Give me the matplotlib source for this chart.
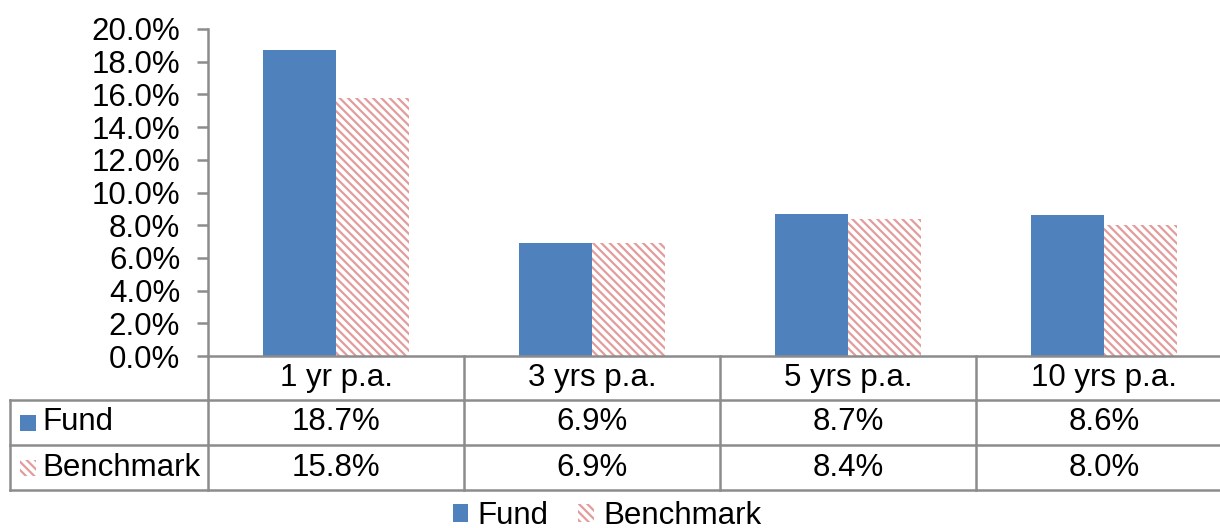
import matplotlib
matplotlib.use("Agg")
import matplotlib.pyplot as plt
from matplotlib.patches import Rectangle, Patch
from matplotlib.transforms import blended_transform_factory

plt.rcParams['font.family'] = ['Liberation Sans', 'DejaVu Sans']
plt.rcParams['hatch.linewidth'] = 1.6

periods = ['1 yr p.a.', '3 yrs p.a.', '5 yrs p.a.', '10 yrs p.a.']
fund = [18.7, 6.9, 8.7, 8.6]
benchmark = [15.8, 6.9, 8.4, 8.0]
yticks = [0, 2, 4, 6, 8, 10, 12, 14, 16, 18, 20]

fund_color = '#4F81BD'
bench_color = '#E39C9C'
grid_color = '#8C8C8C'
fs = 22.5

W, H = 1220, 528
fig = plt.figure(figsize=(W / 100, H / 100), dpi=100)
# plot area: left edge 208px, 0% at 356px, 20% at 29px, one column = 256px
ax = fig.add_axes([208 / W, (H - 356) / H, 1024 / W, 327 / H])

x = [i + 0.5 for i in range(len(periods))]
bw = 0.285
ax.bar([v - bw / 2 for v in x], fund, width=bw, color=fund_color, edgecolor='none')
ax.bar([v + bw / 2 for v in x], benchmark, width=bw, color='white', edgecolor=bench_color,
       hatch='\\\\\\\\', linewidth=0)

ax.set_xlim(0, 4)
ax.set_ylim(0, 20)
ax.set_yticks(yticks)
ax.set_yticklabels([f'{t:.1f}%' for t in yticks], fontsize=fs)
ax.set_xticks([])
for s in ['top', 'right']:
    ax.spines[s].set_visible(False)
for s in ['left', 'bottom']:
    ax.spines[s].set_color(grid_color)
    ax.spines[s].set_linewidth(1.8)
ax.tick_params(axis='y', length=8, width=1.8, color=grid_color, pad=12)

# data table under the plot
tr = blended_transform_factory(ax.transData, ax.transAxes)
px = 1 / 327
y_head, y_fund, y_bench, y_end = 0, -44 * px, -89 * px, -134 * px
x_left = (10 - 208) / 256

def hline(x0, x1, y):
    ax.plot([x0, x1], [y, y], color=grid_color, lw=1.8, transform=tr, clip_on=False)

def vline(xv, y0, y1):
    ax.plot([xv, xv], [y0, y1], color=grid_color, lw=1.8, transform=tr, clip_on=False)

hline(x_left, 4, y_fund)
hline(x_left, 4, y_bench)
hline(x_left, 4, y_end)
vline(x_left, y_fund, y_end)
for i in range(len(periods) + 1):
    vline(i, y_head, y_end)

for i, p in enumerate(periods):
    ax.text(x[i], (y_head + y_fund) / 2, p, transform=tr, ha='center', va='center', fontsize=fs)
    ax.text(x[i], (y_fund + y_bench) / 2, f'{fund[i]:.1f}%', transform=tr,
            ha='center', va='center', fontsize=fs)
    ax.text(x[i], (y_bench + y_end) / 2, f'{benchmark[i]:.1f}%', transform=tr,
            ha='center', va='center', fontsize=fs)

# row keys
sq = 16 / 256
sqh = 16 * px
kx = (20 - 208) / 256
for yc, label, kw in [((y_fund + y_bench) / 2, 'Fund', dict(facecolor=fund_color, edgecolor='none')),
                      ((y_bench + y_end) / 2, 'Benchmark',
                       dict(facecolor='white', edgecolor=bench_color, hatch='\\\\\\\\', linewidth=0))]:
    ax.add_patch(Rectangle((kx, yc - sqh / 2), sq, sqh, transform=tr, clip_on=False, **kw))
    ax.text((42 - 208) / 256, yc, label, transform=tr, ha='left', va='center', fontsize=fs)

handles = [Patch(facecolor=fund_color, edgecolor='none', label='Fund'),
           Patch(facecolor='white', edgecolor=bench_color, hatch='\\\\\\\\', linewidth=0,
                 label='Benchmark')]
fig.legend(handles=handles, loc='center', bbox_to_anchor=(607 / W, 1 - 516 / H), ncol=2,
           frameon=False, fontsize=fs, handlelength=0.5, handleheight=0.5,
           handletextpad=0.3, columnspacing=0.95, borderpad=0)

fig.savefig('out.png', dpi=100)
